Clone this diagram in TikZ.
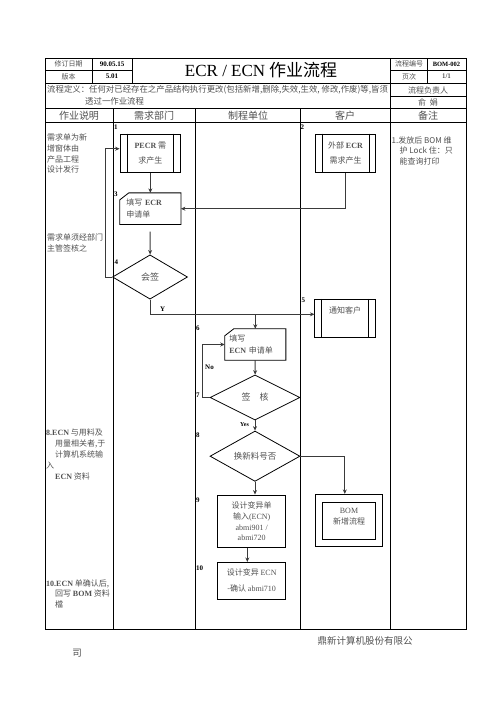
\documentclass[tikz,border=0pt]{standalone}
\usepackage{fontspec}
\setmainfont{Noto Sans CJK SC}
\newfontfamily\lat{Liberation Serif}
\usetikzlibrary{arrows.meta,positioning,calc,shapes.geometric}
\definecolor{linegray}{HTML}{3A3A3A}
\definecolor{txtgray}{HTML}{505050}

\begin{document}
\begin{tikzpicture}[x=1pt, y=-1pt,
  tbl/.style={line width=0.9pt, black},
  txt/.style={font=\fontsize{8}{10.6}\selectfont, text=txtgray, inner sep=0pt, align=left},
  cell/.style={font=\fontsize{7}{8}\selectfont, text=txtgray, inner sep=0pt},
  cellv/.style={font=\lat\bfseries\fontsize{7}{8}\selectfont, inner sep=0pt},
  head/.style={font=\fontsize{10}{12}\selectfont, text=txtgray, inner sep=0pt},
  num/.style={font=\lat\bfseries\fontsize{7}{8}\selectfont, inner sep=0pt, anchor=west},
  proc/.style={draw, line width=0.8pt, minimum width=60.7pt, minimum height=38.3pt, inner sep=0pt, align=center, font=\fontsize{8}{15}\selectfont, text=txtgray},
  inbox/.style={inner xsep=6.35pt, inner ysep=0pt, align=left, font=\fontsize{8}{11.5}\selectfont, text=txtgray},
  box/.style={draw, line width=0.8pt, inner sep=0pt, align=center, font=\fontsize{8}{10.7}\selectfont, text=txtgray},
  dec/.style={diamond, draw, line width=0.8pt, inner sep=0pt, font=\fontsize{9}{10}\selectfont, text=txtgray},
  arr/.style={-{Stealth[length=4.5pt, width=4pt]}, line width=1pt, linegray}
]
  \useasboundingbox (0,0) rectangle (496,702);

  \draw[tbl] (45,58) rectangle (466,629);
  \draw[tbl] (45,83) -- (466,83) (45,108) -- (466,108) (45,122) -- (466,122);
  \draw[tbl] (45,70) -- (132,70) (390.5,70) -- (466,70) (390.5,96) -- (466,96);
  \draw[tbl] (92,58) -- (92,83) (132,58) -- (132,83) (427,58) -- (427,83) (390.5,58) -- (390.5,108);
  \foreach \x in {113,195.5,300,390.5}
    \draw[tbl] (\x,108) -- (\x,629);

  \node[cell] (revlbl) at (68.5,64) {修订日期};
  \node[cellv] (revval) at (112,64) {90.05.15};
  \node[cell] (verlbl) at (68.5,76.5) {版本};
  \node[cellv] (verval) at (112,76.5) {5.01};
  \node[inner sep=0pt, font=\fontsize{17}{20}\selectfont] (title) at (261,70.5) {{\lat ECR / ECN} 作业流程};
  \node[cell] (codelbl) at (409,64) {流程编号};
  \node[cellv, font=\lat\bfseries\fontsize{6.5}{8}\selectfont] (codeval) at (446.5,64) {BOM-002};
  \node[cell] (pagelbl) at (409,76.5) {页次};
  \node[cellv, font=\lat\fontsize{7}{8}\selectfont] (pageval) at (446.5,76.5) {1/1};
  \node[txt, anchor=west, font=\fontsize{8.4}{10}\selectfont] (defn) at (47,90) {流程定义：任何对已经存在之产品结构执行更改(包括新增,删除,失效,生效, 修改,作废)等,皆须};
  \node[txt, anchor=west, font=\fontsize{8.4}{10}\selectfont] (defn2) at (85,101) {透过一作业流程};
  \node[txt] (ownlbl) at (428,90) {流程负责人};
  \node[txt] (owner) at (428,102.5) {俞\ \ 娟};

  \node[head] (h1) at (79,115.5) {作业说明};
  \node[head] (h2) at (154,115.5) {需求部门};
  \node[head] (h3) at (248,115.5) {制程单位};
  \node[head] (h4) at (345,115.5) {客户};
  \node[head] (h5) at (428,115.5) {备注};

  \node[txt, anchor=west] (note1) at (47,153.7) {需求单为新\\增窗体由\\产品工程\\设计发行};
  \node[txt, anchor=west] (note2) at (47,243.2) {需求单须经部门\\主管签核之};
  \node[txt, anchor=west, font=\fontsize{8}{11}\selectfont] (note3) at (46,454.5) {{\lat\bfseries 8.ECN} 与用料及\\\hspace{9pt}用量相关者,于\\\hspace{9pt}计算机系统输\\入\\\hspace{9pt}{\lat\bfseries ECN} 资料};
  \node[txt, anchor=west] (note4) at (46,593.7) {{\lat\bfseries 10.ECN} 单确认后,\\\hspace{9pt}回写 {\lat\bfseries BOM} 资料\\\hspace{9pt}檔};
  \node[txt, anchor=west] (remark) at (391.5,150.8) {1.发放后 BOM 维\\\hspace{8pt}护 Lock 住：只\\\hspace{8pt}能查询打印};

  \node[num] (n1) at (114,127.5) {1};
  \node[num] (n2) at (300.5,127.5) {2};
  \node[num] (n3) at (114,194) {3};
  \node[num] (n4) at (114.5,261.7) {4};
  \node[num] (n5) at (301.5,300) {5};
  \node[num] (n6) at (196,328.3) {6};
  \node[num] (n7) at (196,395) {7};
  \node[num] (n8) at (196,435) {8};
  \node[num] (n9) at (196,500.7) {9};
  \node[num] (n10) at (196,568.3) {10};

  \node[proc] (pecr) at (150.35,153.2) {{\lat\bfseries PECR} 需\\求产生};
  \node[proc] (ext) at (345.5,153.2) {外部 {\lat\bfseries ECR}\\需求产生};
  \node[proc, minimum height=38pt] (notify) at (345.2,318.3) {};
  \node[txt] (notifytxt) at (345.2,310) {通知客户};
  \foreach \n in {pecr,ext,notify}
    \draw[line width=0.8pt] ([xshift=7.3pt]\n.north west) -- ([xshift=7.3pt]\n.south west)
      ([xshift=-7.3pt]\n.north east) -- ([xshift=-7.3pt]\n.south east);

  \node[inbox, minimum width=60.7pt, minimum height=31.3pt, text width=48pt] (ecr) at (150.35,208.7) {填写 {\lat\bfseries ECR}\\申请单};
  \node[inbox, inner xsep=4.3pt, minimum width=60.7pt, minimum height=31pt, text width=52.1pt] (ecn) at (255.3,344.5) {填写\\{\lat\bfseries ECN} 申请单};
  \foreach \n in {ecr,ecn}
    \draw[line width=0.8pt] (\n.south west) -- ([yshift=-7pt]\n.north west) -- ([xshift=9pt]\n.north west)
      -- (\n.north east) -- (\n.south east) -- cycle;

  \node[dec, minimum width=75pt, minimum height=44.3pt] (hq) at (150,277) {会签};
  \node[dec, minimum width=90pt, minimum height=45pt] (chk) at (255,397.5) {签\quad 核};
  \node[dec, minimum width=90pt, minimum height=44.3pt, font=\fontsize{8.5}{10}\selectfont] (newno) at (255,456.2) {换新料号否};

  \node[box, minimum width=68pt, minimum height=52.7pt] (dsgn) at (251.7,521.3) {设计变异单\\输入{\lat (ECN)}\\{\lat abmi901 /}\\{\lat abmi720}};
  \node[box, minimum width=68pt, minimum height=36.7pt, font=\fontsize{8}{15.6}\selectfont] (conf) at (251.7,580.7) {设计变异 {\lat ECN}\\-确认 {\lat abmi710}};

  \node[box, minimum width=67pt, minimum height=52pt] (bom) at (348.8,520.3) {};
  \node[box, minimum width=53.4pt, minimum height=37pt] (bomin) at (349,520.8) {};
  \node[txt, align=center, font=\fontsize{8}{11}\selectfont] (bomtxt) at (349,516.2) {{\lat BOM}\\新增流程};

  \node[num, font=\lat\bfseries\fontsize{7}{8}\selectfont] (ylbl) at (160,309.7) {Y};
  \node[num] (nolbl) at (205,367.3) {No};
  \node[num, font=\lat\bfseries\fontsize{6}{7}\selectfont] (yeslbl) at (240,425) {Yes};

  \coordinate (ysplit) at (255.3,314.3);

  \draw[arr] (pecr) -- (ecr);
  \draw[arr] (ext.south) |- (ecr.east);
  \draw[arr, shorten <=7pt] (ecr) -- (hq);
  \draw[arr] (hq.west) -- ++(-6.3,0) |- ([yshift=4.5pt]pecr.west);
  \draw[arr] (hq.south) |- ([yshift=4pt]notify.west);
  \draw[arr] (ysplit) -- (ecn.north);
  \draw[arr] (ecn) -- (chk);
  \draw[arr] (chk.west) -- ++(-7.3,0) |- (ecn.west);
  \draw[arr] (chk) -- (newno);
  \draw[arr] (newno.south) -- (newno.south |- dsgn.north);
  \draw[arr] (newno.east) -| ([xshift=-4pt]bom.north);
  \draw[arr] ([xshift=-4.4pt]dsgn.south) -- ([xshift=-4.4pt]dsgn.south |- conf.north);

  \node[inner sep=0pt, font=\fontsize{9.5}{11}\selectfont, text=txtgray] (firm) at (365,641) {鼎新计算机股份有限公};
  \node[inner sep=0pt, font=\fontsize{9.5}{11}\selectfont, text=txtgray] (firm2) at (77,653) {司};
\end{tikzpicture}
\end{document}
